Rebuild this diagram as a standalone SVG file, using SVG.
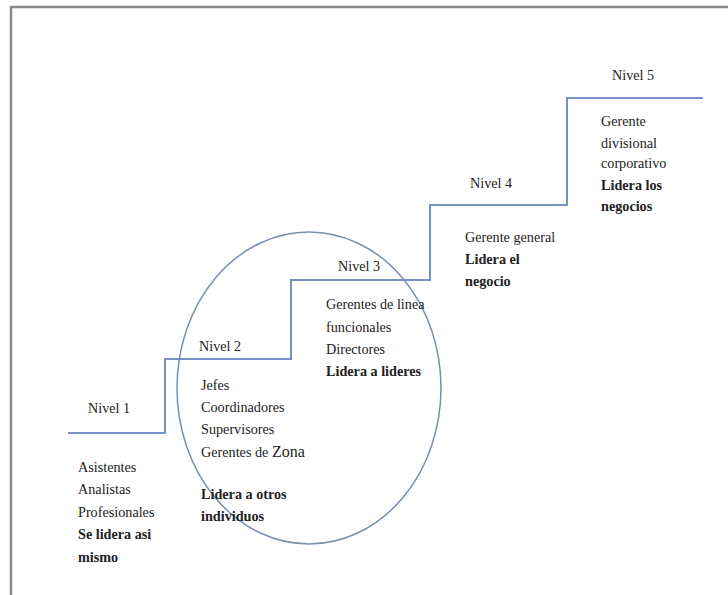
<svg xmlns="http://www.w3.org/2000/svg" width="728" height="595" viewBox="0 0 728 595">
<style>
.t{font-family:'Liberation Serif','DejaVu Serif',serif;font-size:14.2px;fill:#222}
.b{font-weight:bold}
.line{fill:none;stroke:#7391c2;stroke-width:2}
</style>
<rect width="728" height="595" fill="#fff"/>
<path d="M11,595 V7 H728" fill="none" stroke="#8a8a8a" stroke-width="2.5"/>
<g id="connectors">
<path class="line" d="M68,433 H165 V359 H291 V280 H430 V205 H567 V98 H703"/>
<ellipse cx="309" cy="388" rx="132" ry="156" fill="none" stroke="#7a8fb0" stroke-width="1.5"/>
</g>
<g class="t">
<g id="nivel1">
<text x="88" y="413">Nivel 1</text>
<text x="78" y="472">Asistentes</text>
<text x="78" y="494">Analistas</text>
<text x="78" y="517">Profesionales</text>
<text x="78" y="539" class="b">Se lidera asi</text>
<text x="78" y="562" class="b">mismo</text>
</g>
<g id="nivel2">
<text x="199" y="351">Nivel 2</text>
<text x="201" y="390">Jefes</text>
<text x="201" y="412">Coordinadores</text>
<text x="201" y="434">Supervisores</text>
<text x="201" y="457">Gerentes de <tspan font-size="16">Zona</tspan></text>
<text x="201" y="499" class="b">Lidera a otros</text>
<text x="201" y="521" class="b">individuos</text>
</g>
<g id="nivel3">
<text x="338" y="271">Nivel 3</text>
<text x="326" y="309">Gerentes de linea</text>
<text x="326" y="332">funcionales</text>
<text x="326" y="354">Directores</text>
<text x="326" y="376" class="b">Lidera a lideres</text>
</g>
<g id="nivel4">
<text x="470" y="188">Nivel 4</text>
<text x="465" y="242">Gerente general</text>
<text x="465" y="264" class="b">Lidera el</text>
<text x="465" y="286" class="b">negocio</text>
</g>
<g id="nivel5">
<text x="612" y="80">Nivel 5</text>
<text x="601" y="126">Gerente</text>
<text x="601" y="148">divisional</text>
<text x="601" y="168">corporativo</text>
<text x="601" y="190" class="b">Lidera los</text>
<text x="601" y="211" class="b">negocios</text>
</g>
</g>
</svg>
